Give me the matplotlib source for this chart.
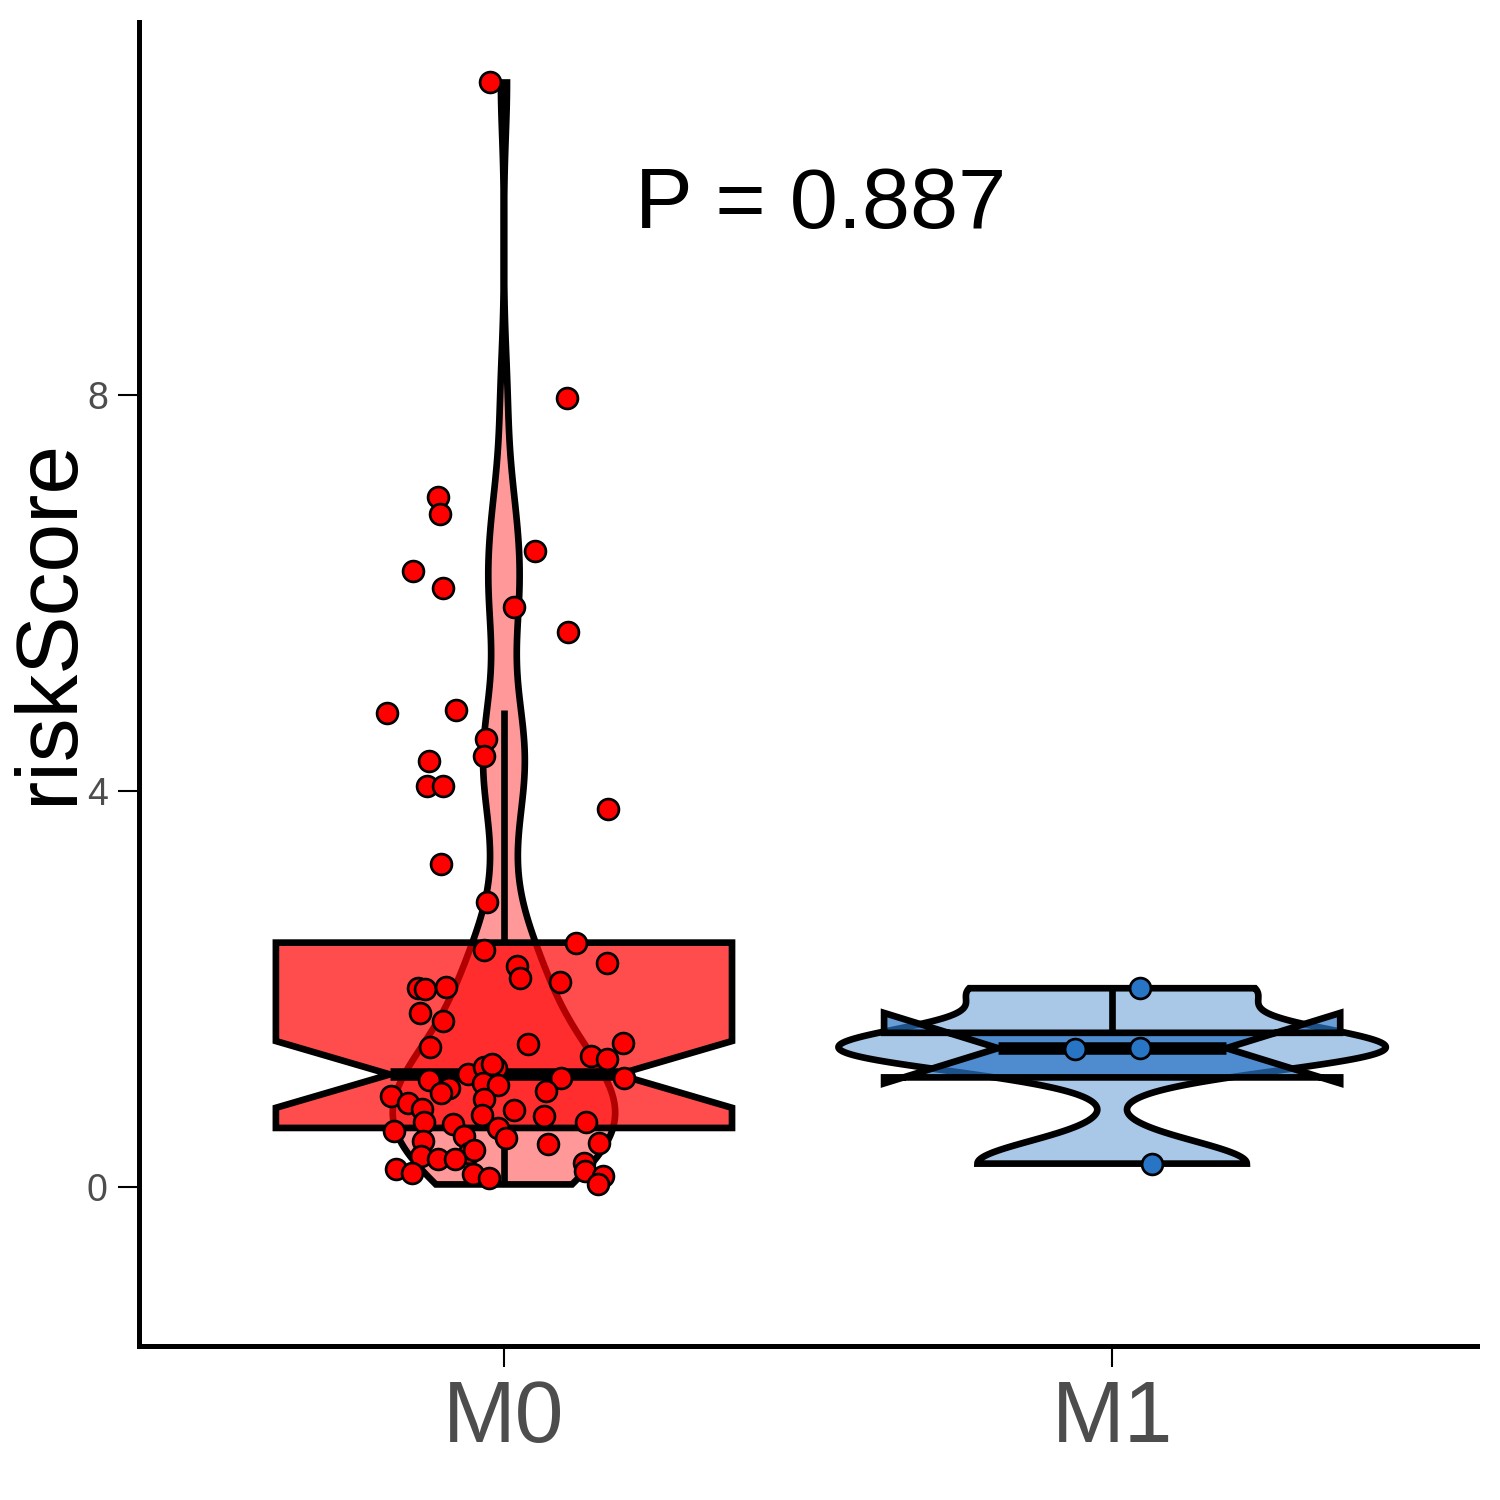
import numpy as np
import matplotlib
matplotlib.use('Agg')
import matplotlib.pyplot as plt
from matplotlib.patches import Polygon

plt.rcParams['font.family'] = ['Liberation Sans', 'DejaVu Sans']

# %% data
groups = ['M0', 'M1']

m0_score = [11.15, 7.97, 6.97, 6.80, 6.22, 6.05, 6.42, 5.86, 5.60, 4.79,
            4.82, 4.52, 4.35, 4.30, 4.05, 4.05, 3.82, 3.26, 2.88, 2.40,
            2.47, 2.26, 2.23, 2.11, 2.07, 2.01, 2.00, 2.02, 1.76, 1.68,
            1.42, 1.45, 1.46, 1.33, 1.30, 1.14, 1.21, 1.20, 1.10, 1.10,
            1.08, 1.05, 1.03, 1.00, 0.95, 0.92, 0.85, 0.79, 0.89, 0.97,
            0.78, 0.73, 0.72, 0.66, 0.64, 0.66, 0.57, 0.60, 0.52, 0.50,
            0.47, 0.44, 0.45, 0.35, 0.32, 0.29, 0.29, 0.25, 0.19, 0.15,
            0.14, 0.09, 0.17, 0.12, 0.03, 1.25, 0.38]
# horizontal jitter of each point (x units from the group centre)
m0_jitter = [-0.023, 0.104, -0.109, -0.105, -0.150, -0.100, 0.051, 0.016, 0.105, -0.192,
             -0.079, -0.030, -0.033, -0.123, -0.127, -0.100, 0.171, -0.104, -0.028, -0.033,
             0.118, 0.169, 0.021, 0.026, 0.092, -0.141, -0.130, -0.095, -0.138, -0.100,
             -0.122, 0.039, 0.196, 0.143, 0.169, -0.059, -0.033, -0.013, 0.094, 0.197,
             -0.123, -0.035, -0.010, -0.090, -0.104, -0.186, -0.158, -0.135, -0.033, 0.069,
             0.016, -0.036, 0.066, -0.132, -0.084, 0.135, -0.181, -0.010, -0.066, 0.003,
             -0.133, 0.072, 0.156, -0.058, -0.137, -0.109, -0.081, 0.132, -0.178, -0.151,
             -0.051, -0.025, 0.133, 0.163, 0.155, -0.020, -0.050]

m1_score = [2.01, 1.40, 1.41, 0.24]
m1_jitter = [0.046, -0.061, 0.046, 0.066]

p_label = 'P = 0.887'

colors = ['#FF0000', '#2874C5']


def bw_nrd0(v):
    sd = np.std(v, ddof=1)
    q1, q3 = np.percentile(v, [25, 75])
    return 0.9 * min(sd, (q3 - q1) / 1.34) * len(v) ** -0.2


def density(v, grid):
    bw = bw_nrd0(v)
    z = (grid[:, None] - v[None, :]) / bw
    return np.exp(-0.5 * z ** 2).sum(axis=1) / (len(v) * bw * np.sqrt(2 * np.pi))


def box_stats(v):
    q1, med, q3 = np.percentile(v, [25, 50, 75])
    iqr = q3 - q1
    lo = v[v >= q1 - 1.5 * iqr].min()
    hi = v[v <= q3 + 1.5 * iqr].max()
    notch = 1.58 * iqr / np.sqrt(len(v))
    return q1, med, q3, lo, hi, med - notch, med + notch


scores = [np.array(m0_score), np.array(m1_score)]
jitters = [np.array(m0_jitter), np.array(m1_jitter)]

# violins scaled by area: widest density over all groups gets the full width
grids = [np.linspace(v.min(), v.max(), 512) for v in scores]
dens = [density(v, g) for v, g in zip(scores, grids)]
dmax = max(d.max() for d in dens)

fig = plt.figure(figsize=(10, 10), dpi=150)
ax = fig.add_axes([0.0927, 0.1027, 0.892, 0.8826])

lw = 3.2
box_w = 0.75
for i, g in enumerate(groups):
    pos = i + 1
    v = scores[i]
    col = colors[i]

    # violin
    hw = 0.45 * dens[i] / dmax
    xs = np.concatenate([pos - hw, (pos + hw)[::-1]])
    ys = np.concatenate([grids[i], grids[i][::-1]])
    ax.add_patch(Polygon(np.column_stack([xs, ys]), closed=True,
                         facecolor=matplotlib.colors.to_rgba(col, 0.4),
                         edgecolor='black', lw=lw, zorder=1))

    # notched box
    q1, med, q3, lo, hi, nlo, nhi = box_stats(v)
    xmin, xmax = pos - box_w / 2, pos + box_w / 2
    ind = 0.5 * box_w / 2
    if hi > q3:
        ax.plot([pos, pos], [q3, hi], color='black', lw=lw, zorder=2, solid_capstyle='butt')
    if lo < q1:
        ax.plot([pos, pos], [q1, lo], color='black', lw=lw, zorder=2, solid_capstyle='butt')
    bx = [xmin, xmin, xmin + ind, xmin, xmin, xmax, xmax, xmax - ind, xmax, xmax]
    by = [q3, nhi, med, nlo, q1, q1, nlo, med, nhi, q3]
    ax.add_patch(Polygon(np.column_stack([bx, by]), closed=True,
                         facecolor=matplotlib.colors.to_rgba(col, 0.7),
                         edgecolor='black', lw=lw, joinstyle='miter', zorder=3))
    ax.plot([xmin + ind, xmax - ind], [med, med], color='black', lw=6,
            solid_capstyle='butt', zorder=4)

    # jittered points
    ax.scatter(pos + jitters[i], v, s=100, facecolor=col, edgecolor='black',
               linewidth=1.3, zorder=5)

ax.text(1.2155, 9.68, p_label, fontsize=41.5, color='black', ha='left', va='baseline')

ax.set_xlim(0.4, 2.6)
ax.set_ylim(-1.6, 11.76)
ax.set_xticks([1, 2])
ax.set_xticklabels(groups)
ax.set_yticks([0, 4, 8])
ax.set_yticklabels(['0', '4', '8'])
ax.set_ylabel('riskScore', fontsize=42, color='black')
ax.yaxis.set_label_coords(-0.037, 0.547)

for s in ['top', 'right']:
    ax.spines[s].set_visible(False)
for s in ['left', 'bottom']:
    ax.spines[s].set_linewidth(2.4)
ax.tick_params(axis='x', length=10, width=1, labelsize=42, labelcolor='#4D4D4D', pad=6)
ax.tick_params(axis='y', length=10, width=1, labelsize=18, labelcolor='#4D4D4D', pad=5)

fig.savefig('out.png', dpi=150)
